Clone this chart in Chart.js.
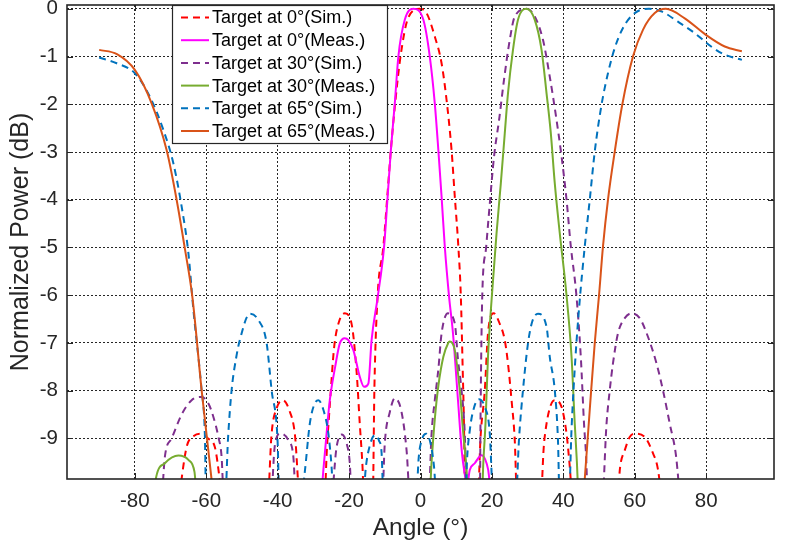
<!DOCTYPE html>
<html>
<head>
<meta charset="utf-8">
<script src="https://cdn.jsdelivr.net/npm/chart.js@4.4.0/dist/chart.umd.min.js"></script>
<style>
  html, body { margin: 0; padding: 0; background: #fff; }
  #wrap { width: 785px; height: 545px; }
</style>
</head>
<body>
<div id="wrap"><canvas id="chart" width="785" height="545"></canvas></div>
<script>
// tick labels
const xTicks = [-80, -60, -40, -20, 0, 20, 40, 60, 80];
const yTicks = [-9, -8, -7, -6, -5, -4, -3, -2, -1, 0];

const seriesNames = [
  'Target at 0°(Sim.)', 'Target at 0°(Meas.)',
  'Target at 30°(Sim.)', 'Target at 30°(Meas.)',
  'Target at 65°(Sim.)', 'Target at 65°(Meas.)'
];

// [angle (deg), normalized power (dB)]; points below -9.85 fall off the axis
const sim0 = [
  [-67.9, -10.4], [-65.5, -9.18], [-63.5, -8.95], [-61.7, -8.9], [-59.5, -9.0], [-57.6, -9.18], [-54.8, -10.4],
  [-42.9, -10.4], [-41.7, -8.9], [-40.2, -8.35], [-38.5, -8.2], [-36.8, -8.4], [-35.2, -8.9], [-33.6, -10.4],
  [-27.0, -10.4], [-26.2, -9.2], [-25.3, -8.2], [-24.2, -7.1], [-22.8, -6.55], [-21.2, -6.38], [-19.3, -6.6],
  [-17.9, -7.6], [-17.0, -8.7], [-16.3, -9.5], [-15.7, -10.4],
  [-13.4, -10.4], [-12.9, -7.9], [-12.0, -6.0], [-10.4, -4.98], [-9.3, -3.93], [-8.3, -2.96], [-7.1, -1.98],
  [-5.6, -1.0], [-3.5, -0.2], [-0.2, 0], [1.7, -0.09], [4.0, -0.58], [5.9, -1.14], [7.3, -1.91], [8.7, -2.96],
  [9.6, -3.93], [10.6, -4.98], [11.3, -6.03], [11.8, -7.5], [12.2, -8.8], [12.5, -10.4],
  [16.0, -10.4], [16.8, -9.0], [18.0, -8.0], [18.9, -6.8], [20.5, -6.38], [22.2, -6.6], [23.6, -6.94],
  [24.5, -7.43], [25.5, -8.2], [26.4, -9.04], [27.1, -10.4],
  [33.6, -10.4], [34.5, -9.2], [35.3, -8.69], [36.5, -8.3], [37.6, -8.2], [39.5, -8.34], [40.9, -8.9],
  [41.7, -9.5], [42.8, -10.4],
  [55.0, -10.4], [55.9, -9.6], [57.2, -9.25], [58.6, -8.97], [60.0, -8.9], [62.8, -8.97], [65.1, -9.31],
  [66.5, -9.65], [67.7, -10.4]
];
const meas0 = [
  [-28.0, -10.4], [-27.2, -9.66], [-26.3, -8.9], [-25.4, -8.2], [-23.9, -7.5], [-22.6, -7.01], [-21.2, -6.9],
  [-20.2, -6.94], [-18.8, -7.15], [-17.0, -7.71], [-15.8, -7.92], [-14.6, -7.85], [-13.7, -6.94], [-12.0, -6.05],
  [-10.2, -4.98], [-9.2, -3.93], [-8.3, -2.96], [-7.2, -1.98], [-6.2, -1.0], [-4.4, -0.23], [-2.0, 0],
  [0.8, -0.23], [2.6, -1.0], [4.0, -1.98], [5.0, -2.96], [5.9, -3.93], [6.8, -4.98], [8.0, -6.03], [9.1, -6.8],
  [10.5, -8.2], [11.6, -9.3], [12.4, -9.75], [13.0, -10.0], [13.8, -9.66], [15.2, -9.52], [17.1, -9.35],
  [18.5, -9.52], [19.2, -9.8], [19.7, -10.4]
];
const sim30 = [
  [-72.5, -10.4], [-71.6, -9.39], [-69.7, -9.0], [-66.9, -8.5], [-64.1, -8.2], [-61.3, -8.13], [-59.4, -8.27],
  [-58.0, -8.55], [-56.6, -8.97], [-55.7, -9.39], [-55.0, -10.4],
  [-42.0, -10.4], [-40.8, -9.15], [-39.2, -8.9], [-37.0, -9.04], [-35.6, -9.39], [-34.8, -10.4],
  [-25.2, -10.4], [-23.5, -9.18], [-22.1, -8.92], [-20.7, -9.1], [-19.8, -9.52], [-19.2, -10.4],
  [-10.8, -10.4], [-10.0, -9.1], [-8.6, -8.45], [-7.2, -8.16], [-5.3, -8.45], [-3.9, -9.25], [-2.8, -10.4],
  [2.2, -10.4], [3.1, -8.9], [4.0, -8.2], [5.0, -7.55], [5.9, -6.8], [7.7, -6.38], [9.6, -6.59], [10.5, -7.35],
  [11.5, -7.99], [12.4, -8.9], [13.0, -10.4],
  [16.6, -10.4], [16.8, -8.7], [17.0, -7.3], [17.3, -6.0], [18.4, -4.98], [19.5, -4.0], [20.6, -3.09],
  [22.0, -2.33], [23.5, -1.42], [25.0, -0.65], [26.4, -0.16], [29.8, 0], [32.0, -0.16], [34.3, -0.65],
  [36.2, -1.42], [38.1, -2.33], [39.5, -3.09], [40.9, -4.0], [42.1, -4.98], [43.6, -5.95], [44.9, -7.3],
  [45.8, -8.7], [46.4, -9.4], [46.9, -10.4],
  [50.8, -10.4], [52.1, -8.69], [53.0, -7.99], [53.9, -7.43], [55.3, -6.8], [57.2, -6.48], [59.1, -6.38],
  [61.4, -6.48], [63.7, -6.87], [66.1, -7.43], [67.9, -7.99], [69.8, -8.69], [71.6, -9.39], [72.8, -10.4]
];
const meas30 = [
  [-75.0, -10.4], [-74.0, -9.8], [-71.6, -9.52], [-67.8, -9.36], [-65.0, -9.45], [-63.3, -9.7], [-62.4, -10.4],
  [2.4, -10.4], [3.1, -9.5], [4.0, -8.6], [5.0, -7.9], [6.4, -7.29], [7.7, -7.01], [8.2, -6.97], [9.6, -7.15],
  [11.0, -7.99], [11.9, -8.83], [12.9, -9.66], [13.4, -10.4],
  [17.1, -10.4], [17.6, -9.5], [18.2, -8.69], [18.9, -7.29], [20.0, -6.0], [21.3, -4.7], [22.5, -3.65],
  [23.6, -2.61], [24.5, -1.77], [25.9, -0.86], [27.3, -0.23], [29.7, 0], [32.0, -0.23], [33.9, -0.86],
  [35.3, -1.77], [36.5, -2.61], [37.6, -3.65], [39.0, -4.7], [40.8, -5.93], [42.3, -7.29], [43.2, -8.69],
  [43.8, -9.5], [44.3, -10.4]
];
const sim65 = [
  [-90, -1.02], [-85.1, -1.14], [-80, -1.35], [-75.8, -1.84], [-72, -2.54], [-69.2, -3.24], [-66.9, -4.14],
  [-65, -5.12], [-63.6, -6.31], [-61.3, -7.99], [-60.4, -8.9], [-60.0, -10.4],
  [-54.8, -10.4], [-53.9, -9.0], [-52.9, -7.99], [-51.6, -7.3], [-50.6, -6.94], [-47.8, -6.39], [-45.4, -6.52],
  [-43.1, -7.0], [-41.7, -7.99], [-40.0, -9.1], [-39.5, -10.4],
  [-33.6, -10.4], [-32.4, -9.7], [-31.0, -8.69], [-29.8, -8.3], [-28.6, -8.2], [-27.2, -8.4], [-25.8, -8.9],
  [-24.9, -9.6], [-24.3, -10.4],
  [-16.2, -10.4], [-15.3, -9.6], [-14.2, -9.15], [-12.8, -8.93], [-11.6, -9.05], [-10.9, -9.3], [-10.3, -10.4],
  [-1.3, -10.4], [-0.5, -9.4], [0.5, -9.0], [1.6, -8.9], [2.8, -9.1], [3.8, -9.6], [4.6, -10.4],
  [12.6, -10.4], [13.0, -9.5], [13.8, -8.83], [15.0, -8.35], [16.3, -8.18], [18.0, -8.34], [19.4, -8.9],
  [19.9, -9.7], [20.3, -10.4],
  [26.6, -10.4], [27.6, -9.0], [28.7, -7.99], [30.1, -7.01], [31.3, -6.55], [32.9, -6.39], [35.3, -6.66],
  [36.2, -7.29], [37.6, -7.99], [38.5, -9.04], [39.0, -10.4],
  [41.5, -10.4], [42.3, -8.8], [43.4, -7.3], [44.6, -6.1], [46.0, -4.98], [47.4, -4.0], [48.8, -2.99],
  [50.7, -2.01], [52.5, -1.35], [54.4, -0.82], [56.7, -0.4], [60.0, -0.09], [64.0, 0], [67.4, -0.05],
  [72.1, -0.27], [76.8, -0.51], [81.4, -0.79], [85.2, -0.96], [90, -1.07]
];
const meas65 = [
  [-90, -0.86], [-85, -0.95], [-80, -1.28], [-75.3, -1.98], [-71.1, -2.96], [-68.3, -4.0], [-66.0, -5.02],
  [-63.9, -6.03], [-61.3, -7.99], [-58.5, -9.87], [-57.3, -10.8],
  [45.0, -10.8], [46.0, -9.85], [47.4, -8.4], [48.8, -7.0], [50.0, -6.0], [51.1, -4.98], [52.5, -4.0],
  [54.4, -2.99], [56.5, -2.01], [59.5, -1.0], [62.3, -0.44], [65.6, -0.09], [68.7, 0], [74.0, -0.2],
  [80.0, -0.55], [85.2, -0.79], [90, -0.89]
];

const seriesData = [sim0, meas0, sim30, meas30, sim65, meas65];
const seriesColors = ['#ff0000', '#ff00ff', '#7e2f8e', '#77ac30', '#0072bd', '#d95319'];
const seriesDashed = [true, false, true, false, true, false];

const ink = '#262626';
const fontFamily = '"Liberation Sans", Arial, Helvetica, sans-serif';

const datasets = seriesData.map((pts, i) => ({
  label: seriesNames[i],
  data: pts.map(p => ({ x: p[0], y: p[1] })),
  showLine: true,
  borderColor: seriesColors[i],
  backgroundColor: seriesColors[i],
  borderWidth: 2,
  borderDash: seriesDashed[i] ? [7, 5] : [],
  pointRadius: 0,
  cubicInterpolationMode: 'monotone',
  order: seriesData.length - i
}));

// box, inward tick marks and the legend, MATLAB style
const framePlugin = {
  id: 'frame',
  afterDatasetsDraw(chart) {
    const { ctx, chartArea: a, scales } = chart;
    ctx.save();
    ctx.strokeStyle = ink;
    ctx.lineWidth = 1;
    ctx.setLineDash([]);
    ctx.beginPath();
    xTicks.forEach(v => {
      const px = Math.round(scales.x.getPixelForValue(v)) + 0.5;
      ctx.moveTo(px, a.bottom); ctx.lineTo(px, a.bottom - 6);
      ctx.moveTo(px, a.top); ctx.lineTo(px, a.top + 6);
    });
    yTicks.forEach(v => {
      const py = Math.round(scales.y.getPixelForValue(v)) + 0.5;
      ctx.moveTo(a.left, py); ctx.lineTo(a.left + 6, py);
      ctx.moveTo(a.right, py); ctx.lineTo(a.right - 6, py);
    });
    ctx.stroke();
    ctx.lineWidth = 1.6;
    ctx.strokeRect(a.left, a.top, a.right - a.left, a.bottom - a.top);

    // legend
    const lx = 172, ly = a.top, lw = 215, lh = 138, rowH = 22.7;
    ctx.fillStyle = '#fff';
    ctx.fillRect(lx, ly, lw, lh);
    ctx.lineWidth = 1.2;
    ctx.strokeStyle = ink;
    ctx.strokeRect(lx + 0.5, ly + 0.5, lw, lh);
    ctx.font = '18px ' + fontFamily;
    ctx.textBaseline = 'middle';
    ctx.textAlign = 'left';
    chart.data.datasets.forEach((ds, i) => {
      const y = ly + 12.5 + rowH * i;
      ctx.strokeStyle = ds.borderColor;
      ctx.lineWidth = 2;
      ctx.setLineDash(ds.borderDash);
      ctx.beginPath();
      ctx.moveTo(lx + 9, y); ctx.lineTo(lx + 37, y);
      ctx.stroke();
      ctx.setLineDash([]);
      ctx.fillStyle = '#000';
      ctx.fillText(ds.label, lx + 40, y + 1);
    });
    ctx.restore();
  }
};

new Chart(document.getElementById('chart'), {
  type: 'scatter',
  data: { datasets },
  options: {
    responsive: false,
    animation: false,
    devicePixelRatio: 1,
    layout: { padding: { left: 0, right: 11, top: 5, bottom: 0 } },
    plugins: { legend: { display: false }, tooltip: { enabled: false } },
    scales: {
      x: {
        type: 'linear',
        min: -99,
        max: 99,
        afterBuildTicks: s => { s.ticks = xTicks.map(v => ({ value: v })); },
        afterFit: s => { s.height = 66; s.paddingLeft = 0; s.paddingRight = 0; },
        grid: { color: ink, lineWidth: 1, drawTicks: false },
        border: { display: false, dash: [2, 2] },
        ticks: { color: ink, padding: 10, font: { family: fontFamily, size: 20.5 } },
        title: {
          display: true, text: 'Angle (°)', color: ink,
          font: { family: fontFamily, size: 24.5 }, padding: { top: 0, bottom: 2 }
        }
      },
      y: {
        type: 'linear',
        min: -9.85,
        max: 0.08,
        afterBuildTicks: s => { s.ticks = yTicks.map(v => ({ value: v })); },
        afterFit: s => { s.width = 67; s.paddingTop = 0; s.paddingBottom = 0; },
        grid: { color: ink, lineWidth: 1, drawTicks: false },
        border: { display: false, dash: [2, 2] },
        ticks: { color: ink, padding: 9, font: { family: fontFamily, size: 20.5 } },
        title: {
          display: true, text: 'Normalized Power (dB)', color: ink,
          font: { family: fontFamily, size: 25 }, padding: { top: 6, bottom: 0 }
        }
      }
    }
  },
  plugins: [framePlugin]
});
</script>
</body>
</html>
